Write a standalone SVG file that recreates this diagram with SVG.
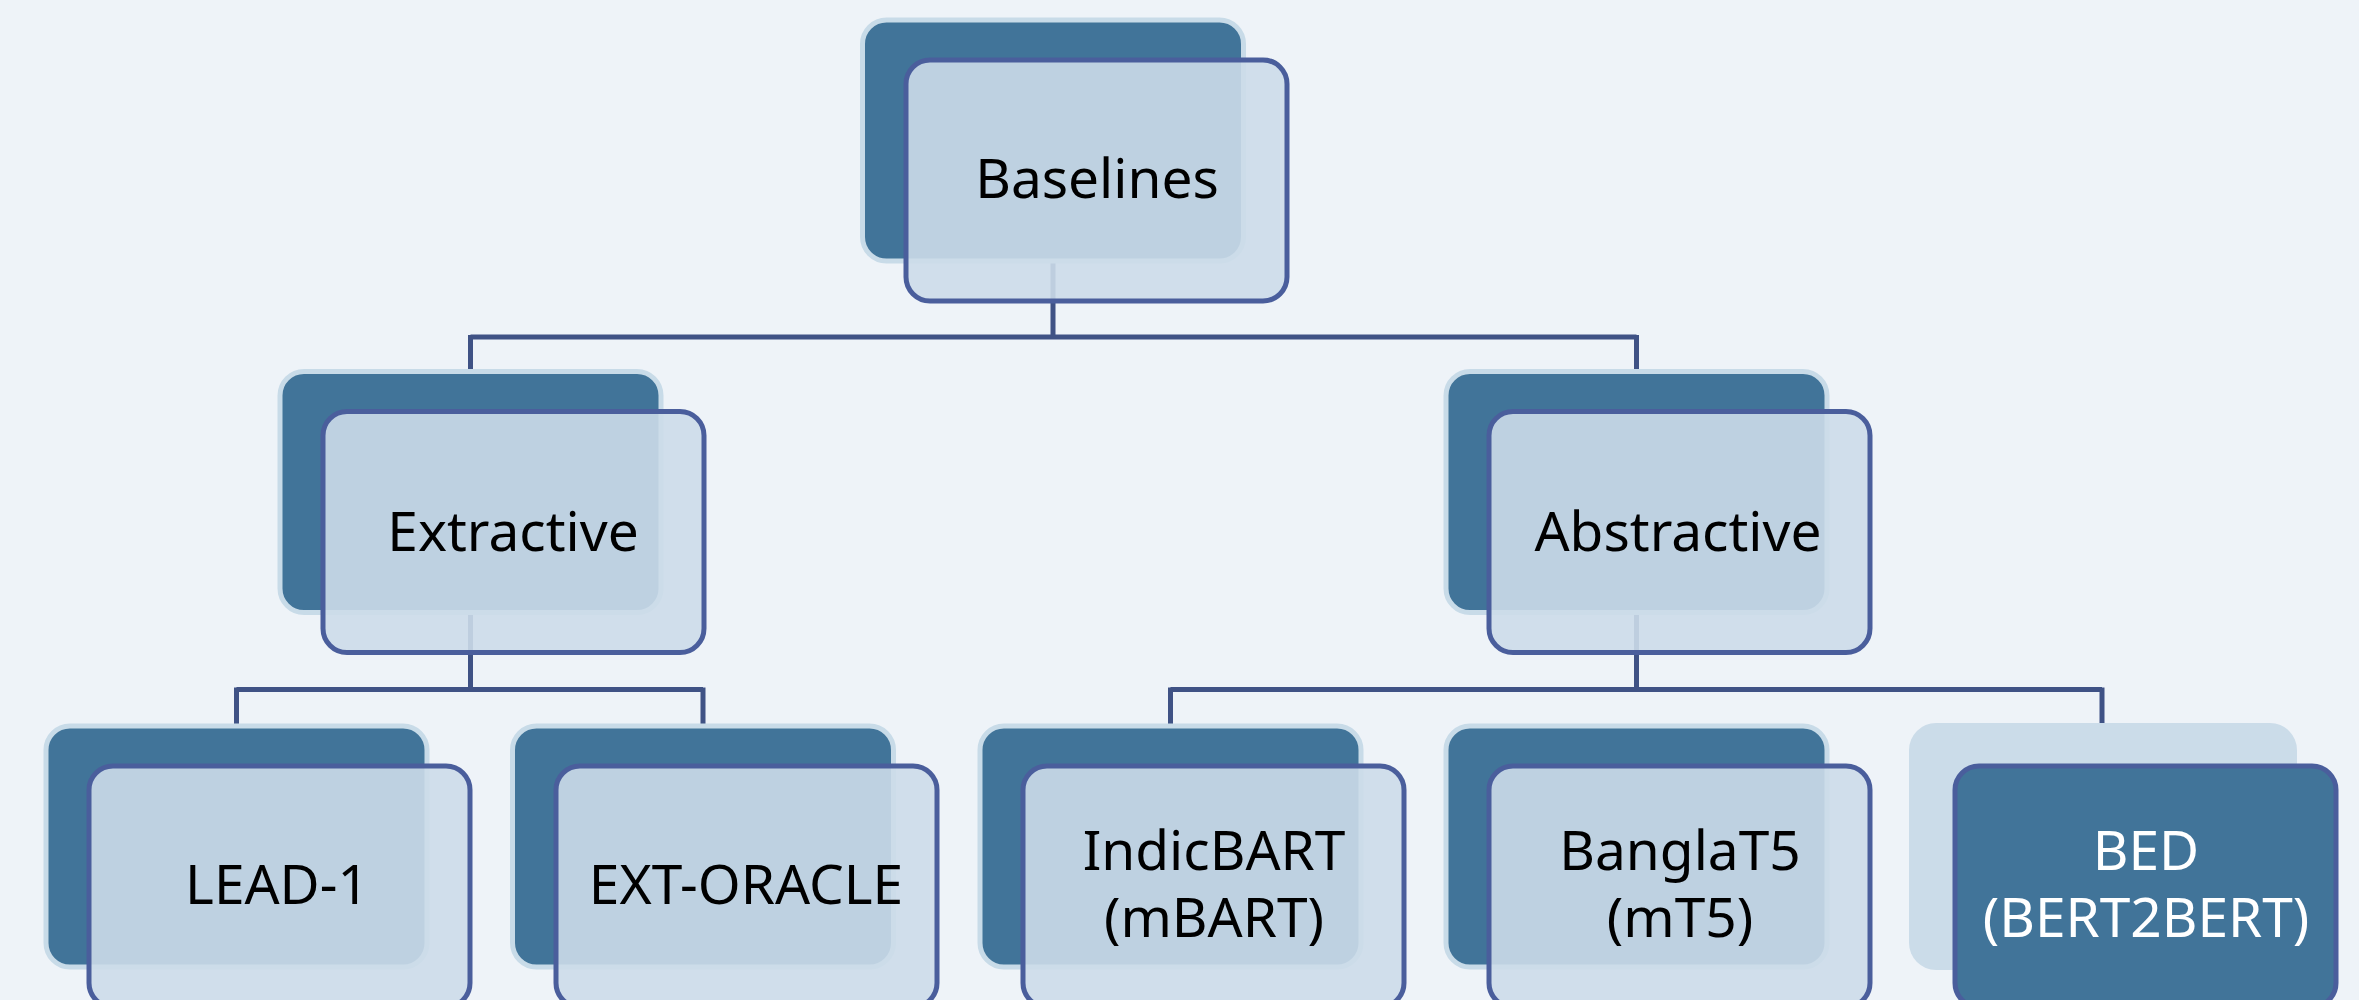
<svg xmlns="http://www.w3.org/2000/svg" width="2359" height="1000" viewBox="0 0 2359 1000">
  <style>
    .back { fill: #417499; stroke: #c8dbe8; stroke-width: 5; }
    .back-alt { fill: #cbdce9; stroke: none; }
    .front { fill: rgb(204,220,233); fill-opacity: 0.9; stroke: #4a5e9c; stroke-width: 5; }
    .front-alt { fill: #417499; stroke: #4a5e9c; stroke-width: 5; }
    .conn { fill: none; stroke: #3f5285; stroke-width: 5; stroke-linecap: butt; }
    .label { font-family: "Noto Sans", "Open Sans", sans-serif; font-size: 55px; fill: #000; text-anchor: middle; }
    .label-alt { font-family: "Noto Sans", "Open Sans", sans-serif; font-size: 55px; fill: #ffffff; text-anchor: middle; }
  </style>
  <rect x="0" y="0" width="2359" height="1000" fill="#eef3f8"/>

  <!-- elbow connectors, drawn under the node boxes -->
  <g id="connectors">
    <path class="conn" d="M1053 261 V337 M470.5 337 H1636.5 M470.5 335 V372 M1636.5 335 V372"/>
    <path class="conn" d="M470.5 613 V689.5 M236.5 689.5 H703 M236.5 687.5 V726 M703 687.5 V726"/>
    <path class="conn" d="M1636.5 613 V689.5 M1170.5 689.5 H2102 M1170.5 687.5 V726 M2102 687.5 V726"/>
  </g>

  <!-- level 0 -->
  <g id="node-baselines">
    <rect class="back" x="862.5" y="20" width="381" height="241" rx="24"/>
    <rect class="front" x="906" y="60" width="381" height="241" rx="24"/>
    <text class="label" x="1097" y="198">Baselines</text>
  </g>

  <!-- level 1 -->
  <g id="node-extractive">
    <rect class="back" x="280" y="371.5" width="381" height="241" rx="24"/>
    <rect class="front" x="323" y="411.5" width="381" height="241" rx="24"/>
    <text class="label" x="513" y="551">Extractive</text>
  </g>
  <g id="node-abstractive">
    <rect class="back" x="1446" y="371.5" width="381" height="241" rx="24"/>
    <rect class="front" x="1489" y="411.5" width="381" height="241" rx="24"/>
    <text class="label" x="1678" y="551">Abstractive</text>
  </g>

  <!-- level 2 -->
  <g id="node-lead1">
    <rect class="back" x="46" y="726" width="381" height="241" rx="24"/>
    <rect class="front" x="89" y="766" width="381" height="241" rx="24"/>
    <text class="label" x="277" y="904">LEAD-1</text>
  </g>
  <g id="node-ext-oracle">
    <rect class="back" x="512.5" y="726" width="381" height="241" rx="24"/>
    <rect class="front" x="556" y="766" width="381" height="241" rx="24"/>
    <text class="label" x="746" y="904">EXT-ORACLE</text>
  </g>
  <g id="node-indicbart">
    <rect class="back" x="980" y="726" width="381" height="241" rx="24"/>
    <rect class="front" x="1023" y="766" width="381" height="241" rx="24"/>
    <text class="label" y="870"><tspan x="1214">IndicBART</tspan><tspan x="1214" dy="67">(mBART)</tspan></text>
  </g>
  <g id="node-banglat5">
    <rect class="back" x="1446" y="726" width="381" height="241" rx="24"/>
    <rect class="front" x="1489" y="766" width="381" height="241" rx="24"/>
    <text class="label" y="870"><tspan x="1680">BanglaT5</tspan><tspan x="1680" dy="67">(mT5)</tspan></text>
  </g>
  <g id="node-bed">
    <rect class="back-alt" x="1909" y="723" width="388" height="247" rx="27"/>
    <rect class="front-alt" x="1955" y="766" width="381" height="241" rx="24"/>
    <text class="label-alt" y="870"><tspan x="2146">BED</tspan><tspan x="2146" dy="67">(BERT2BERT)</tspan></text>
  </g>
</svg>
